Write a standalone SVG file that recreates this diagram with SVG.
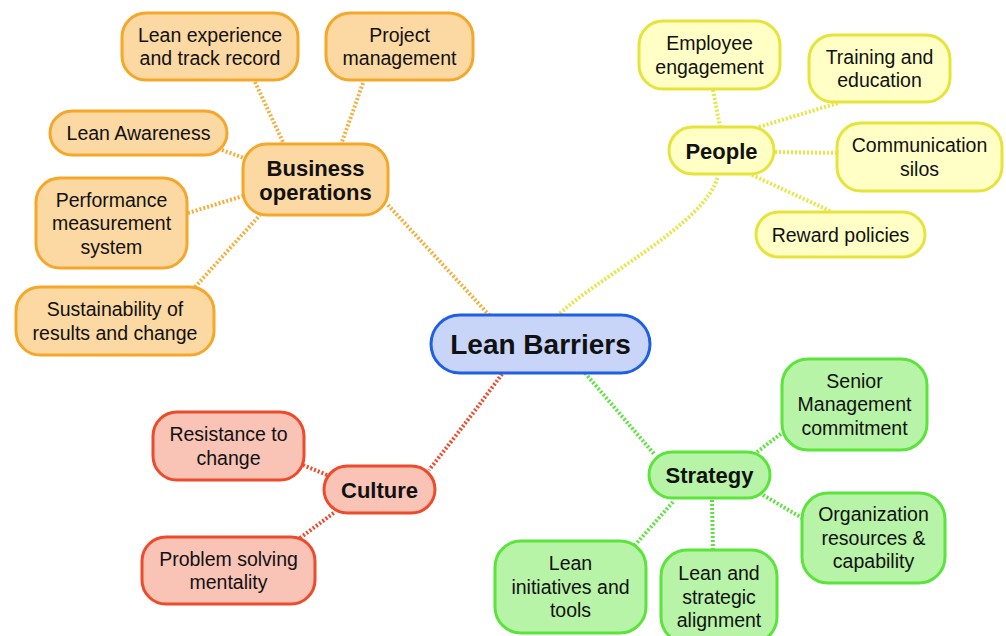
<svg xmlns="http://www.w3.org/2000/svg" width="1006" height="636" viewBox="0 0 1006 636">
<style>
text{font-family:"Liberation Sans",Arial,sans-serif;fill:#111;text-anchor:middle}
.t{font-size:19.5px}
.b{font-size:22px;font-weight:bold}
.r{font-size:28px;font-weight:bold}
rect{stroke-width:3}
.o rect{fill:#FCD8A2;stroke:#F5A72A}
.y rect{fill:#FFFFC6;stroke:#E6E43A}
.g rect{fill:#B8F4A7;stroke:#5BE43C}
.rd rect{fill:#F9C3B6;stroke:#EE4B2C}
.bl rect{fill:#C9D5F8;stroke:#1F5FE6}
#connectors path{fill:none;stroke-width:4;stroke-dasharray:2 2}
.co{stroke:#F5AE3A}
.cy{stroke:#E6E640}
.cg{stroke:#5BE43C}
.cr{stroke:#EE4B2C}
</style>
<rect width="1006" height="636" fill="#FFFFFF"/>
<g id="connectors">
<path class="co" d="M388,205 L490,316"/>
<path class="co" d="M255,82 L283,142"/>
<path class="co" d="M363,83 L342,142"/>
<path class="co" d="M222,150 L244,158"/>
<path class="co" d="M188,213 L243,196"/>
<path class="co" d="M195,287 L260,215"/>
<path class="cy" d="M557,316 C600,275 705,225 718,176"/>
<path class="cy" d="M713,90 L720,127"/>
<path class="cy" d="M759,127 L838,103"/>
<path class="cy" d="M775,152 L837,153"/>
<path class="cy" d="M752,175 L830,211"/>
<path class="cg" d="M585,373 L655,455"/>
<path class="cg" d="M757,452 L782,433"/>
<path class="cg" d="M763,495 L802,518"/>
<path class="cg" d="M673,502 L635,545"/>
<path class="cg" d="M712,500 L713,550"/>
<path class="cr" d="M502,374 Q470,418 429,470"/>
<path class="cr" d="M303,465 L327,475"/>
<path class="cr" d="M300,538 L335,512"/>
</g>
<g id="lean-barriers" class="bl"><rect x="431" y="315" width="219" height="58" rx="29"/><text class="r" x="540.5" y="354">Lean Barriers</text></g>
<g id="business-operations" class="o"><rect x="243" y="144" width="145" height="71" rx="24"/><text class="b" x="315.5" y="175.5">Business</text><text class="b" x="315.5" y="199.5">operations</text></g>
<g id="lean-experience" class="o"><rect x="122" y="13" width="176" height="67" rx="24"/><text class="t" x="210" y="41.75">Lean experience</text><text class="t" x="210" y="65.25">and track record</text></g>
<g id="project-management" class="o"><rect x="326" y="13" width="147" height="67" rx="24"/><text class="t" x="399.5" y="41.75">Project</text><text class="t" x="399.5" y="65.25">management</text></g>
<g id="lean-awareness" class="o"><rect x="50" y="111" width="177" height="44" rx="22"/><text class="t" x="138.5" y="140">Lean Awareness</text></g>
<g id="performance-measurement" class="o"><rect x="36" y="178" width="151" height="90" rx="24"/><text class="t" x="111.5" y="206.5">Performance</text><text class="t" x="111.5" y="230">measurement</text><text class="t" x="111.5" y="253.5">system</text></g>
<g id="sustainability" class="o"><rect x="16" y="287" width="198" height="68" rx="24"/><text class="t" x="115" y="316.25">Sustainability of</text><text class="t" x="115" y="339.75">results and change</text></g>
<g id="people" class="y"><rect x="669" y="127" width="105" height="47" rx="23.5"/><text class="b" x="721.5" y="158.5">People</text></g>
<g id="employee-engagement" class="y"><rect x="639" y="21" width="141" height="68" rx="24"/><text class="t" x="709.5" y="50.25">Employee</text><text class="t" x="709.5" y="73.75">engagement</text></g>
<g id="training-education" class="y"><rect x="809" y="35" width="141" height="67" rx="24"/><text class="t" x="879.5" y="63.75">Training and</text><text class="t" x="879.5" y="87.25">education</text></g>
<g id="communication-silos" class="y"><rect x="837" y="123" width="165" height="68" rx="24"/><text class="t" x="919.5" y="152.25">Communication</text><text class="t" x="919.5" y="175.75">silos</text></g>
<g id="reward-policies" class="y"><rect x="756" y="212" width="169" height="45" rx="22.5"/><text class="t" x="840.5" y="241.5">Reward policies</text></g>
<g id="strategy" class="g"><rect x="649" y="452" width="121" height="46" rx="23"/><text class="b" x="709.5" y="483">Strategy</text></g>
<g id="senior-management" class="g"><rect x="782" y="359" width="145" height="91" rx="26"/><text class="t" x="854.5" y="387.5">Senior</text><text class="t" x="854.5" y="411">Management</text><text class="t" x="854.5" y="434.5">commitment</text></g>
<g id="organization-resources" class="g"><rect x="802" y="493" width="143" height="90" rx="26"/><text class="t" x="873.5" y="521">Organization</text><text class="t" x="873.5" y="544.5">resources &amp;</text><text class="t" x="873.5" y="568">capability</text></g>
<g id="lean-initiatives" class="g"><rect x="495" y="541" width="151" height="92" rx="26"/><text class="t" x="570.5" y="570">Lean</text><text class="t" x="570.5" y="593.5">initiatives and</text><text class="t" x="570.5" y="617">tools</text></g>
<g id="strategic-alignment" class="g"><rect x="661" y="550" width="116" height="93" rx="26"/><text class="t" x="719" y="580">Lean and</text><text class="t" x="719" y="603.5">strategic</text><text class="t" x="719" y="627">alignment</text></g>
<g id="culture" class="rd"><rect x="324" y="466" width="111" height="47" rx="23.5"/><text class="b" x="379.5" y="497.5">Culture</text></g>
<g id="resistance-to-change" class="rd"><rect x="153" y="412" width="151" height="68" rx="24"/><text class="t" x="228.5" y="441.25">Resistance to</text><text class="t" x="228.5" y="464.75">change</text></g>
<g id="problem-solving" class="rd"><rect x="142" y="537" width="173" height="67" rx="24"/><text class="t" x="228.5" y="565.75">Problem solving</text><text class="t" x="228.5" y="589.25">mentality</text></g>
</svg>
